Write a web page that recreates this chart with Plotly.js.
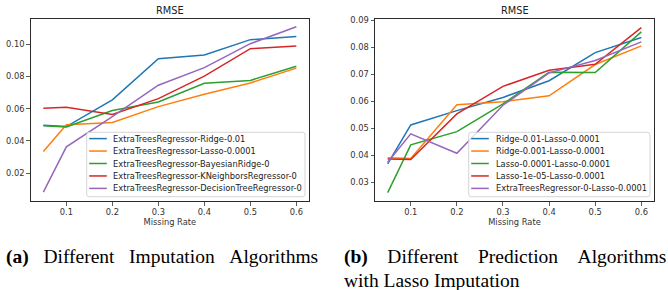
<!DOCTYPE html>
<html>
<head>
<meta charset="utf-8">
<script src="https://cdn.plot.ly/plotly-3.0.1.min.js"></script>
<style>html,body{margin:0;padding:0;background:#fff;}#chart{width:668px;height:290px;}</style>
</head>
<body>
<div id="chart"></div>
<script>
// ---- data ----
const missingRate = [0.05, 0.1, 0.2, 0.3, 0.4, 0.5, 0.6];
const xTickVals = [0.1, 0.2, 0.3, 0.4, 0.5, 0.6];
const xTickText = ['0.1', '0.2', '0.3', '0.4', '0.5', '0.6'];

// (a) different imputation algorithms
const namesA = [
  'ExtraTreesRegressor-Ridge-0.01',
  'ExtraTreesRegressor-Lasso-0.0001',
  'ExtraTreesRegressor-BayesianRidge-0',
  'ExtraTreesRegressor-KNeighborsRegressor-0',
  'ExtraTreesRegressor-DecisionTreeRegressor-0'
];
const ridgeA  = [0.0498, 0.0489, 0.0655, 0.0911, 0.0934, 0.1029, 0.1048];
const lassoA  = [0.0334, 0.0500, 0.0514, 0.0613, 0.0690, 0.0760, 0.0852];
const bayesA  = [0.0495, 0.0487, 0.0589, 0.0642, 0.0758, 0.0776, 0.0864];
const knnA    = [0.0603, 0.0609, 0.0564, 0.0663, 0.0802, 0.0973, 0.0990];
const dtreeA  = [0.0082, 0.0363, 0.0551, 0.0746, 0.0855, 0.1004, 0.1109];
const yTickValsA = [0.02, 0.04, 0.06, 0.08, 0.10];
const yTickTextA = ['0.02', '0.04', '0.06', '0.08', '0.10'];

// (b) different prediction algorithms with Lasso imputation
const namesB = [
  'Ridge-0.01-Lasso-0.0001',
  'Ridge-0.001-Lasso-0.0001',
  'Lasso-0.0001-Lasso-0.0001',
  'Lasso-1e-05-Lasso-0.0001',
  'ExtraTreesRegressor-0-Lasso-0.0001'
];
const ridge01B   = [0.0368, 0.0512, 0.0565, 0.0614, 0.0676, 0.0780, 0.0836];
const ridge001B  = [0.0390, 0.0388, 0.0587, 0.0598, 0.0620, 0.0736, 0.0805];
const lasso0001B = [0.0261, 0.0438, 0.0487, 0.0590, 0.0707, 0.0706, 0.0857];
const lasso1e5B  = [0.0386, 0.0384, 0.0553, 0.0655, 0.0715, 0.0737, 0.0873];
const extraB     = [0.0374, 0.0479, 0.0407, 0.0585, 0.0705, 0.0751, 0.0820];
const yTickValsB = [0.03, 0.04, 0.05, 0.06, 0.07, 0.08, 0.09];
const yTickTextB = ['0.03', '0.04', '0.05', '0.06', '0.07', '0.08', '0.09'];

const captionA = ['(a)', 'Different Imputation Algorithms'];
const captionB = ['(b)', 'Different Prediction Algorithms', 'with Lasso Imputation'];

// ---- styling ----
const colors = ['#1f77b4', '#ff7f0e', '#2ca02c', '#d62728', '#9467bd'];
const W = 668, H = 290;
const px = x => x / W;
const py = y => 1 - y / H;
const tickFont = {family: 'DejaVu Sans', size: 8.3, color: '#333'};

const seriesA = [ridgeA, lassoA, bayesA, knnA, dtreeA];
const seriesB = [ridge01B, ridge001B, lasso0001B, lasso1e5B, extraB];

const traces = [];
seriesA.forEach((s, i) => traces.push({
  x: missingRate, y: s, name: namesA[i], type: 'scatter', mode: 'lines',
  line: {color: colors[i], width: 1.5}, xaxis: 'x', yaxis: 'y', showlegend: false
}));
seriesB.forEach((s, i) => traces.push({
  x: missingRate, y: s, name: namesB[i], type: 'scatter', mode: 'lines',
  line: {color: colors[i], width: 1.5}, xaxis: 'x2', yaxis: 'y2', showlegend: false
}));

function axisX(domain, anchor) {
  return {
    domain: domain, anchor: anchor, range: [0.0225, 0.6275],
    tickvals: xTickVals, ticktext: xTickText, ticks: 'outside', ticklen: 3.5,
    tickwidth: 0.8, tickcolor: '#333', showgrid: false, zeroline: false,
    showline: true, mirror: true, linecolor: '#2a2a2a', linewidth: 1,
    tickfont: tickFont, automargin: false,
    title: {text: 'Missing Rate', font: tickFont, standoff: 2}
  };
}
function axisY(domain, anchor, range, tv, tt) {
  return {
    domain: domain, anchor: anchor, range: range, tickvals: tv, ticktext: tt,
    ticks: 'outside', ticklen: 3.5, tickwidth: 0.8, tickcolor: '#333',
    showgrid: false, zeroline: false, showline: true, mirror: true,
    linecolor: '#2a2a2a', linewidth: 1, tickfont: tickFont, automargin: false
  };
}

const yDom = [py(201), py(19.2)];
const layout = {
  width: W, height: H, margin: {l: 0, r: 0, t: 0, b: 0},
  paper_bgcolor: '#fff', plot_bgcolor: '#fff', showlegend: false,
  xaxis: axisX([px(30.7), px(309)], 'y'),
  yaxis: axisY(yDom, 'x', [0.0027, 0.1156], yTickValsA, yTickTextA),
  xaxis2: axisX([px(375), px(654)], 'y2'),
  yaxis2: axisY(yDom, 'x2', [0.0230, 0.0904], yTickValsB, yTickTextB),
  shapes: [], annotations: []
};

// subplot titles
[[169.9, 'RMSE'], [514.5, 'RMSE']].forEach(([cx, t]) => layout.annotations.push({
  x: px(cx), y: py(11), xref: 'paper', yref: 'paper', text: t, showarrow: false,
  xanchor: 'center', yanchor: 'middle', font: {family: 'DejaVu Sans', size: 9.8, color: '#222'}
}));

// legends (matplotlib-style boxes)
function roundedRect(x0, y0, x1, y1, r) {
  const X = v => px(v).toFixed(5), Y = v => py(v).toFixed(5);
  return `M${X(x0 + r)},${Y(y0)} L${X(x1 - r)},${Y(y0)} Q${X(x1)},${Y(y0)} ${X(x1)},${Y(y0 + r)} ` +
    `L${X(x1)},${Y(y1 - r)} Q${X(x1)},${Y(y1)} ${X(x1 - r)},${Y(y1)} L${X(x0 + r)},${Y(y1)} ` +
    `Q${X(x0)},${Y(y1)} ${X(x0)},${Y(y1 - r)} L${X(x0)},${Y(y0 + r)} Q${X(x0)},${Y(y0)} ${X(x0 + r)},${Y(y0)} Z`;
}
function addLegend(names, boxX0, boxX1, lineX0, lineX1, textX) {
  layout.shapes.push({
    type: 'path', xref: 'paper', yref: 'paper', layer: 'above',
    path: roundedRect(boxX0, 132.3, boxX1, 196.7, 2.5),
    fillcolor: 'rgba(255,255,255,0.8)', line: {color: '#d0d0d0', width: 0.9}
  });
  names.forEach((n, i) => {
    const yc = 138.6 + i * 12.45;
    layout.shapes.push({
      type: 'line', xref: 'paper', yref: 'paper', layer: 'above',
      x0: px(lineX0), x1: px(lineX1), y0: py(yc), y1: py(yc),
      line: {color: colors[i], width: 1.5}
    });
    layout.annotations.push({
      x: px(textX - 1), y: py(yc), xref: 'paper', yref: 'paper', text: n, showarrow: false,
      xanchor: 'left', yanchor: 'middle', font: {family: 'DejaVu Sans', size: 8.3, color: '#222'}
    });
  });
}
addLegend(namesA, 86.7, 305, 89.2, 106.8, 111.7);
addLegend(namesB, 468.7, 650, 471.2, 488.8, 494.7);

// captions (justified lines -> widened word gaps)
const capFont = {family: 'Liberation Serif', size: 19.5, color: '#000'};
const gapA = '\u00A0\u00A0\u00A0';
const gapB = '\u00A0\u00A0\u00A0\u00A0';
layout.annotations.push({
  x: px(4), y: py(257), xref: 'paper', yref: 'paper', showarrow: false,
  xanchor: 'left', yanchor: 'middle', font: capFont,
  text: '<b>' + captionA[0] + '</b>' + gapA + captionA[1].split(' ').join(gapA)
});
layout.annotations.push({
  x: px(342), y: py(257), xref: 'paper', yref: 'paper', showarrow: false,
  xanchor: 'left', yanchor: 'middle', font: capFont,
  text: '<b>' + captionB[0] + '</b>' + gapB + captionB[1].split(' ').join(gapB)
});
layout.annotations.push({
  x: px(342), y: py(280), xref: 'paper', yref: 'paper', showarrow: false,
  xanchor: 'left', yanchor: 'middle', font: capFont, text: captionB[2]
});

Plotly.newPlot('chart', traces, layout, {staticPlot: true, displayModeBar: false});
</script>
</body>
</html>
